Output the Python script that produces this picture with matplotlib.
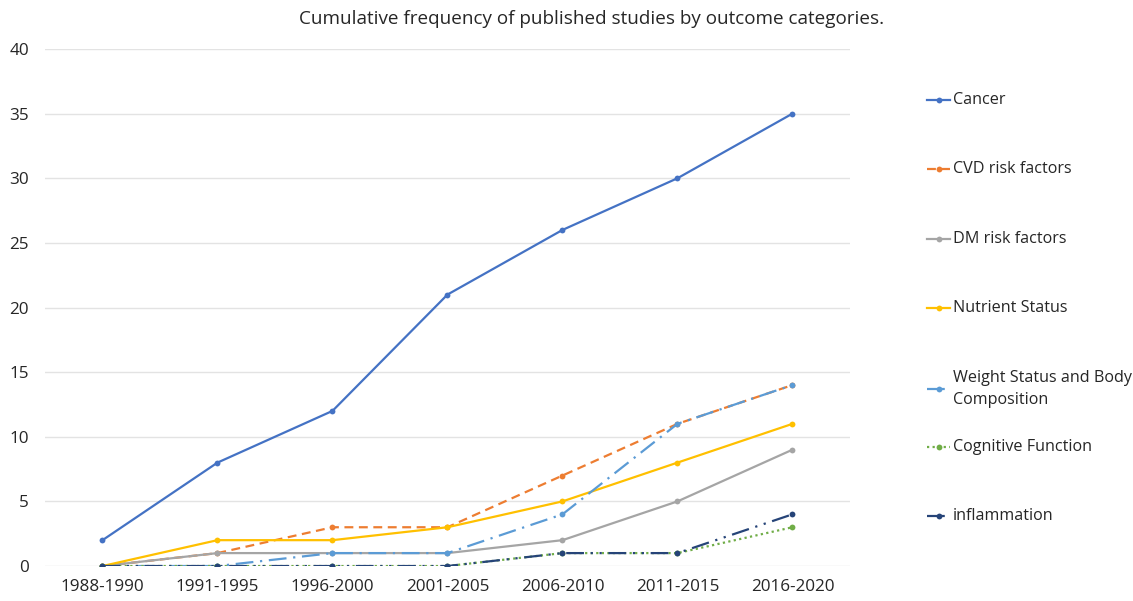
import matplotlib
matplotlib.use("Agg")
import matplotlib.pyplot as plt
from matplotlib.lines import Line2D

plt.rcParams['font.family'] = ['Open Sans', 'DejaVu Sans']

periods = ["1988-1990", "1991-1995", "1996-2000", "2001-2005",
           "2006-2010", "2011-2015", "2016-2020"]

cancer = [2, 8, 12, 21, 26, 30, 35]
cvd_risk = [0, 1, 3, 3, 7, 11, 14]
dm_risk = [0, 1, 1, 1, 2, 5, 9]
nutrient_status = [0, 2, 2, 3, 5, 8, 11]
weight_status = [0, 0, 1, 1, 4, 11, 14]
cognitive_function = [0, 0, 0, 0, 1, 1, 3]
inflammation = [0, 0, 0, 0, 1, 1, 4]

series = [
    ("Cancer", cancer, "#4472C4", "-"),
    ("CVD risk factors", cvd_risk, "#ED7D31", (0, (4, 2.5))),
    ("DM risk factors", dm_risk, "#A5A5A5", "-"),
    ("Nutrient Status", nutrient_status, "#FFC000", "-"),
    ("Weight Status and Body\nComposition", weight_status, "#5B9BD5", (0, (8, 3, 1, 3))),
    ("Cognitive Function", cognitive_function, "#70AD47", (0, (1, 1.5))),
    ("inflammation", inflammation, "#264478", (0, (8, 3, 1, 3, 1, 3))),
]

fig = plt.figure(figsize=(11.33, 6.01), dpi=100)
ax = fig.add_axes([0.0397, 0.0582, 0.7105, 0.8603])

x = list(range(len(periods)))
for name, vals, color, ls in series:
    ax.plot(x, vals, color=color, linestyle=ls, linewidth=1.6,
            marker="o", markersize=4.2, markeredgewidth=0, zorder=3)

ax.set_xlim(-0.5, len(periods) - 0.5)
ax.set_ylim(0, 40)
ax.set_yticks(range(0, 41, 5))
ax.set_xticks(x)
ax.set_xticklabels(periods)
ax.tick_params(axis="both", length=0, labelsize=12.3, colors="#262626")
ax.tick_params(axis="x", pad=9)
ax.tick_params(axis="y", pad=11.5)
ax.grid(axis="y", color="#E3E3E3", linewidth=1)
ax.set_axisbelow(True)
for s in ax.spines.values():
    s.set_visible(False)

fig.text(592 / 1133, 1 - 19 / 601,
         "Cumulative frequency of published studies by outcome categories.",
         ha="center", va="center", fontsize=13.6, color="#262626")

# legend entries placed down the right-hand side
legend_y = [100, 169, 239, 308, 389, 447, 516]
W, H = 1133, 601
for (name, vals, color, ls), yy in zip(series, legend_y):
    fy = 1 - yy / H
    fig.add_artist(Line2D([927 / W, 950 / W], [fy, fy], color=color, linestyle=ls,
                          linewidth=1.6, transform=fig.transFigure))
    fig.add_artist(Line2D([938.5 / W], [fy], color=color, marker="o", markersize=4.2,
                          markeredgewidth=0, transform=fig.transFigure))
    fig.text(953 / W, fy, name, ha="left", va="center", fontsize=11.6,
             color="#262626", linespacing=1.5)

fig.savefig("out.png", dpi=100, facecolor="white")
